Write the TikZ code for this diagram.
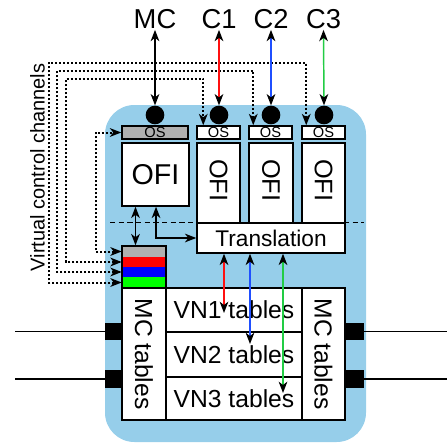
\documentclass[tikz,border=0pt]{standalone}
\usepackage{fontspec}
\setmainfont{Liberation Sans}
\usetikzlibrary{arrows.meta,fit,calc}
\definecolor{bgblue}{HTML}{96CEEA}
\definecolor{osgray}{HTML}{B0B0B0}
\definecolor{arrred}{HTML}{FF1010}
\definecolor{arrblue}{HTML}{1F4FFF}
\definecolor{arrgreen}{HTML}{22CC44}
\begin{document}
\begin{tikzpicture}[x=0.75pt,y=-0.75pt,
  >={Stealth[length=8.5pt,width=6.5pt,inset=2.5pt,color=black]},
  box/.style={draw, fill=white, line width=1.1pt, inner sep=0pt},
  band/.style={inner sep=0pt},
  plug/.style={fill=black, inner sep=0pt},
  dot/.style={circle, fill=black, inner sep=0pt, minimum size=14pt},
  arr/.style={<->, line width=1.1pt},
  chan/.style={<->, line width=1.5pt, dash pattern=on 1.5pt off 1.5pt},
  lab/.style={font=\fontsize{20.5}{24}\selectfont, inner sep=1pt},
  wire/.style={line width=1pt}]
\useasboundingbox (0,0) rectangle (447,443);

% background
\node[fit={(105,105) (366,442)}, inner sep=0pt, fill=bgblue, rounded corners=22pt] (bg) {};

% dashed separator
\coordinate (dl) at (110,222.5);
\coordinate (dr) at (364,222.5);
\draw[line width=0.8pt, dash pattern=on 4pt off 2.5pt] (dl) -- (dr);

% OS boxes
\node[box, fill=osgray, fit={(122,126) (188,139)}] (osmc) {};
\node[box, fit={(197,126) (240,139)}] (os1) {};
\node[box, fit={(249,126) (292,139)}] (os2) {};
\node[box, fit={(302,126) (345,139)}] (os3) {};
\foreach \n in {osmc,os1,os2,os3}
  \node[font=\fontsize{11}{12}\selectfont, inner sep=0pt] (t\n) at (\n) {OS};

% circles
\node[dot] (dmc) at (155,115) {};
\node[dot] (d1) at (219,115) {};
\node[dot] (d2) at (271,115) {};
\node[dot] (d3) at (324,115) {};

% OFI boxes
\node[box, fit={(122,143) (189,206)}] (ofi) {};
\node[box, fit={(197,143) (240,223)}] (ofi1) {};
\node[box, fit={(249,143) (293,223)}] (ofi2) {};
\node[box, fit={(302,143) (345,223)}] (ofi3) {};
\node[font=\fontsize{21.5}{24}\selectfont, inner sep=0pt] (tofi) at (ofi) {OFI};
\foreach \n in {ofi1,ofi2,ofi3}
  \node[font=\fontsize{19}{22}\selectfont, inner sep=0pt, rotate=-90] (t\n) at ([yshift=2pt]\n.center) {OFI};

% translation
\node[box, fit={(197,223) (345,253)}] (trans) {};
\node[font=\fontsize{17}{20}\selectfont, inner sep=0pt] (ttrans) at (trans) {Translation};

% colour stack
\node[band, fill=osgray, fit={(122,246) (166,257)}] (sg) {};
\node[band, fill=red, fit={(122,257) (166,267)}] (sr) {};
\node[band, fill=blue, fit={(122,267) (166,277)}] (sb) {};
\node[band, fill=green, fit={(122,277) (166,288)}] (sgn) {};
\node[draw, line width=1.1pt, inner sep=0pt, fit={(122,246) (166,288)}] (stack) {};

% tables
\node[box, fit={(122,288) (166,420)}] (mcl) {};
\node[box, fit={(166,288) (302,332)}] (vn1) {};
\node[box, fit={(166,332) (302,377)}] (vn2) {};
\node[box, fit={(166,377) (302,420)}] (vn3) {};
\node[box, fit={(302,288) (345,420)}] (mcr) {};
\node[font=\fontsize{18.5}{22}\selectfont, inner sep=0pt, rotate=-90] (tmcl) at (mcl) {MC tables};
\node[font=\fontsize{18.5}{22}\selectfont, inner sep=0pt, rotate=-90] (tmcr) at (mcr) {MC tables};
\node[font=\fontsize{18.5}{22}\selectfont, inner sep=0pt] (tvn1) at (vn1) {VN1 tables};
\node[font=\fontsize{18.5}{22}\selectfont, inner sep=0pt] (tvn2) at (vn2) {VN2 tables};
\node[font=\fontsize{18.5}{22}\selectfont, inner sep=0pt] (tvn3) at (vn3) {VN3 tables};

% side plugs and wires
\node[plug, fit={(105,323) (122,340)}] (pl1) {};
\node[plug, fit={(105,370) (122,388)}] (pl2) {};
\node[plug, fit={(346,323) (364,340)}] (pr1) {};
\node[plug, fit={(346,370) (364,388)}] (pr2) {};
\coordinate (wl1) at (15,331.5);
\coordinate (wl2) at (15,379);
\coordinate (wr1) at (447,331.5);
\coordinate (wr2) at (447,379);
\draw[wire] (wl1) -- (pl1.west);
\draw[wire] (wl2) -- (pl2.west);
\draw[wire] (pr1.east) -- (wr1);
\draw[wire] (pr2.east) -- (wr2);

% virtual control channels label
\node[font=\fontsize{15}{18}\selectfont, inner sep=0pt, rotate=90] (vcc) at (37.5,167.5) {Virtual control channels};

% control channels (dotted)
\coordinate (k1) at (66,79);
\coordinate (k2) at (57,71);
\coordinate (k3) at (48.5,63);
\draw[chan] (sg.west) -- ++(-26,0) |- (osmc.west);
\draw[chan] (sr.west) -| (k1) -| ($(os1.north west)+(7,0)$);
\draw[chan] (sb.west) -| (k2) -| ($(os2.north west)+(5,0)$);
\draw[chan] (sgn.west) -| (k3) -| ($(os3.north west)+(5,0)$);

% top labels and arrows
\node[lab, anchor=base] (lmc) at (155,28) {MC};
\node[lab, anchor=base] (l1) at (219,28) {C1};
\node[lab, anchor=base] (l2) at (271,28) {C2};
\node[lab, anchor=base] (l3) at (323.5,28) {C3};
\draw[arr] (lmc.south) -- (dmc.north);
\draw[arr, arrred] (l1.south) -- (d1.north);
\draw[arr, arrblue] (l2.south) -- (d2.north);
\draw[arr, arrgreen] (l3.south) -- (d3.north);

% OFI to stack / translation
\draw[arr] ([xshift=-15pt]ofi.south) -- ([xshift=-15pt]ofi.south |- stack.north);
\draw[arr] ([xshift=0.4pt]ofi.south) |- (trans.west);

% translation to tables
\coordinate (er) at (224,313);
\coordinate (eb) at (250,344);
\coordinate (eg) at (283,393);
\draw[arr, arrred] (trans.south -| er) -- (er);
\draw[arr, arrblue] (trans.south -| eb) -- (eb);
\draw[arr, arrgreen] (trans.south -| eg) -- (eg);
\end{tikzpicture}
\end{document}
